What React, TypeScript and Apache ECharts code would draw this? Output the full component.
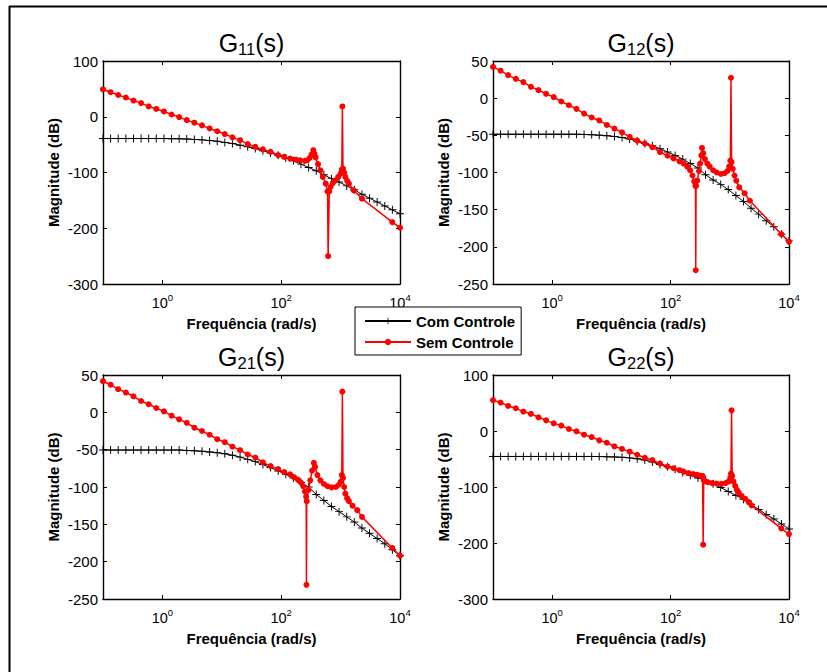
import React, { useEffect, useRef } from "react";
import * as echarts from "echarts";

// ---------- DATA (log10 of frequency in rad/s, magnitude in dB) ----------
const COM_LOGW = [
  -1.0, -0.872, -0.744, -0.615, -0.487, -0.359, -0.231, -0.103, 0.026, 0.154,
  0.282, 0.41, 0.538, 0.667, 0.795, 0.923, 1.051, 1.179, 1.308, 1.436,
  1.564, 1.692, 1.821, 1.949, 2.077, 2.205, 2.333, 2.462, 2.59, 2.718,
  2.846, 2.974, 3.103, 3.231, 3.359, 3.487, 3.615, 3.744, 3.872, 4.0,
];
const COM_G11 = [
  -39, -39, -39, -39, -39, -39, -39, -39, -39.2, -39.3,
  -39.6, -40, -40.6, -41.5, -42.6, -44, -46, -48, -51, -54,
  -57, -61, -65, -69, -74, -79, -85, -91, -97, -104,
  -111, -117, -124, -131, -139, -146, -153, -160, -167, -174,
];
const COM_G12 = [
  -48.5, -48.5, -48.5, -48.5, -48.5, -48.5, -48.5, -48.5, -48.5, -48.5,
  -48.5, -48.5, -48.8, -49.2, -49.8, -50.5, -51.5, -53, -55, -58,
  -61, -64, -68, -72.5, -77, -82, -88, -94, -103, -110,
  -116, -123, -131, -139, -148, -156, -165, -173, -183, -192,
];
const COM_G21 = [
  -50.5, -50.5, -50.5, -50.5, -50.5, -50.5, -50.5, -50.5, -50.5, -50.5,
  -50.5, -51, -51.5, -52.2, -53, -54, -55.5, -57.5, -60, -63,
  -66, -70, -74, -78.5, -83, -88, -94, -100, -110, -118,
  -126, -133, -140, -147, -155, -162, -169, -176, -184, -192,
];
const COM_G22 = [
  -45.4, -45.4, -45.4, -45.4, -45.4, -45.4, -45.4, -45.4, -45.4, -45.4,
  -45.4, -45.4, -45.4, -45.4, -45.6, -45.9, -46.3, -47, -48, -49.5,
  -52, -55.5, -60, -64, -68.5, -74, -79, -84, -88, -94,
  -101, -108, -115, -122, -131, -140, -149, -157, -166, -175,
];

const SEM_LOGW_G11 = [
  -1.0, -0.872, -0.744, -0.615, -0.487, -0.359, -0.231, -0.103, 0.026, 0.154,
  0.282, 0.41, 0.538, 0.667, 0.795, 0.923, 1.051, 1.179, 1.308, 1.436,
  1.564, 1.692, 1.821, 1.949, 2.05, 2.15, 2.25, 2.32, 2.4, 2.44,
  2.48, 2.51, 2.54, 2.56, 2.58, 2.62, 2.66, 2.7, 2.75, 2.78,
  2.79, 2.81, 2.83, 2.87, 2.91, 2.96, 3.0, 3.02, 3.03, 3.04,
  3.06, 3.08, 3.11, 3.14, 3.22, 3.36, 3.87, 4.0,
];
const SEM_G11 = [
  49, 44, 39, 34.5, 29, 24.5, 18.5, 14, 9.5, 4,
  -0.6, -6, -10.7, -15.5, -21, -26, -31, -37, -42, -49,
  -54, -58.5, -63, -69, -72, -75, -77, -78, -79, -78,
  -74, -68, -60, -66, -73, -85, -96, -108, -120, -134,
  -250, -134, -126, -119, -114, -108, -102, -95, 18.5, -93,
  -100, -108, -115, -120, -132, -147, -189, -199,
];
const SEM_LOGW_G12 = [
  -1.0, -0.872, -0.744, -0.615, -0.487, -0.359, -0.231, -0.103, 0.026, 0.154,
  0.282, 0.41, 0.538, 0.667, 0.795, 0.923, 1.051, 1.179, 1.308, 1.436,
  1.564, 1.692, 1.821, 1.949, 2.05, 2.15, 2.22, 2.28, 2.33, 2.37,
  2.4, 2.42, 2.425, 2.43, 2.45, 2.48, 2.5, 2.52, 2.53, 2.55,
  2.58, 2.62, 2.66, 2.72, 2.78, 2.85, 2.91, 2.96, 2.99, 3.01,
  3.02, 3.03, 3.05, 3.08, 3.11, 3.16, 3.25, 3.34, 3.87, 4.0,
];
const SEM_G12 = [
  42, 37, 31, 26, 21.6, 15.3, 10.8, 5.9, 1.4, -4.5,
  -9.5, -14.4, -20.7, -26, -30, -36, -41, -46, -52, -57,
  -61, -66, -72.5, -77.5, -81, -85, -88, -92, -97, -104,
  -112, -118, -231.5, -118, -111, -98, -88, -77, -67, -74,
  -82, -88, -92, -97, -100, -102, -101, -98, -92, -84,
  27.5, -86, -95, -104, -111, -120, -128, -138, -183, -193,
];
const SEM_LOGW_G21 = [
  -1.0, -0.872, -0.744, -0.615, -0.487, -0.359, -0.231, -0.103, 0.026, 0.154,
  0.282, 0.41, 0.538, 0.667, 0.795, 0.923, 1.051, 1.179, 1.308, 1.436,
  1.564, 1.692, 1.821, 1.949, 2.05, 2.15, 2.22, 2.28, 2.33, 2.37,
  2.4, 2.42, 2.425, 2.43, 2.46, 2.49, 2.52, 2.55, 2.57, 2.61,
  2.66, 2.72, 2.78, 2.85, 2.92, 2.97, 3.0, 3.02, 3.03, 3.04,
  3.06, 3.08, 3.11, 3.14, 3.2, 3.28, 3.36, 3.87, 4.0,
];
const SEM_G21 = [
  41.7, 37, 31, 26.5, 21.5, 15.2, 10.8, 5.8, 1.3, -4.5,
  -9.4, -14, -20.6, -25, -30, -36, -40, -46, -50.7, -56.5,
  -60.5, -67, -72, -76, -80, -83, -87, -90, -94, -99,
  -106, -113, -231, -119, -104, -91, -78, -67.7, -73, -84,
  -91, -96, -99, -100.5, -100, -97, -93, -84, 27.8, -88,
  -100, -109, -115, -119, -125, -131, -140, -181.6, -192,
];
const SEM_LOGW_G22 = [
  -1.0, -0.872, -0.744, -0.615, -0.487, -0.359, -0.231, -0.103, 0.026, 0.154,
  0.282, 0.41, 0.538, 0.667, 0.795, 0.923, 1.051, 1.179, 1.308, 1.436,
  1.564, 1.692, 1.821, 1.949, 2.05, 2.15, 2.22, 2.3, 2.38, 2.44,
  2.49, 2.52, 2.54, 2.55, 2.56, 2.58, 2.63, 2.7, 2.78, 2.86,
  2.93, 2.98, 3.01, 3.02, 3.03, 3.04, 3.06, 3.09, 3.12, 3.15,
  3.2, 3.26, 3.32, 3.37, 3.87, 4.0,
];
const SEM_G22 = [
  55, 50.8, 44.8, 40.6, 34.7, 30.5, 24.5, 19, 13.7, 9.6,
  3.6, -0.6, -6.6, -10.8, -16.7, -21, -27.5, -32, -37, -42.4,
  -47.8, -52, -58, -63.4, -66.5, -70, -72.5, -75, -77, -78,
  -79.5, -80, -80, -203, -88, -89, -91.5, -93, -94, -94.4,
  -93, -90, -83, -76, 37, -80, -90, -98, -105, -110,
  -116, -121, -127, -133, -174, -184,
];

const TITLES = ["11", "12", "21", "22"];
const Y_MIN = [-300, -250, -250, -300];
const Y_MAX = [100, 50, 50, 100];
const Y_STEP = [100, 50, 50, 100];
const X_TICKS = [1, 100, 10000];
const LEGEND_NAMES = ["Com Controle", "Sem Controle"];
const X_LABEL = "Frequência (rad/s)";
const Y_LABEL = "Magnitude (dB)";

// ---------- LAYOUT ----------
const GRIDS = [
  { left: 103, top: 61, width: 297, height: 223 },
  { left: 493, top: 61, width: 296, height: 223 },
  { left: 103, top: 375, width: 297, height: 224 },
  { left: 493, top: 375, width: 296, height: 224 },
];
const FONT = "'Liberation Sans', Arial, sans-serif";
const PLUS =
  "path://M4.4,0L5.6,0L5.6,4.4L10,4.4L10,5.6L5.6,5.6L5.6,10L4.4,10L4.4,5.6L0,5.6L0,4.4L4.4,4.4Z";

const toPts = (lw: number[], db: number[]) =>
  lw.map((e, i) => [Math.pow(10, e), db[i]]);

export default function App() {
  const ref = useRef<HTMLDivElement>(null);

  useEffect(() => {
    if (!ref.current) return;
    const chart = echarts.init(ref.current, undefined, { renderer: "svg" });

    const com = [COM_G11, COM_G12, COM_G21, COM_G22];
    const semW = [SEM_LOGW_G11, SEM_LOGW_G12, SEM_LOGW_G21, SEM_LOGW_G22];
    const semV = [SEM_G11, SEM_G12, SEM_G21, SEM_G22];

    const axisLineStyle = { color: "#000", width: 1.4 };
    const xAxis: any[] = [];
    const yAxis: any[] = [];
    const series: any[] = [];
    const graphic: any[] = [
      { type: "line", shape: { x1: 9, y1: 6.5, x2: 827, y2: 6.5 }, style: { stroke: "#000", lineWidth: 2 } },
      { type: "line", shape: { x1: 9.5, y1: 6, x2: 9.5, y2: 672 }, style: { stroke: "#000", lineWidth: 2 } },
    ];

    GRIDS.forEach((g, i) => {
      const common = {
        type: "log",
        logBase: 10,
        gridIndex: i,
        min: 0.1,
        max: 10000,
        axisLine: { show: true, onZero: false, lineStyle: axisLineStyle },
        axisTick: { show: true, inside: true, length: 4, customValues: X_TICKS, lineStyle: { color: "#000" } },
        splitLine: { show: false },
        minorTick: { show: false },
      };
      xAxis.push({
        ...common,
        position: "bottom",
        axisLabel: {
          customValues: X_TICKS,
          margin: 8,
          color: "#000",
          formatter: (v: number) => `{b|10}{s|${Math.round(Math.log10(v))}}`,
          rich: {
            b: { fontSize: 14.5, fontFamily: FONT, color: "#000", lineHeight: 22 },
            s: { fontSize: 9.5, fontFamily: FONT, color: "#000", lineHeight: 10, verticalAlign: "top" },
          },
        },
      });
      xAxis.push({ ...common, position: "top", axisLabel: { show: false } });
      const ycommon = {
        type: "value",
        gridIndex: i,
        min: Y_MIN[i],
        max: Y_MAX[i],
        interval: Y_STEP[i],
        axisLine: { show: true, onZero: false, lineStyle: axisLineStyle },
        axisTick: { show: true, inside: true, length: 4, lineStyle: { color: "#000" } },
        splitLine: { show: false },
      };
      yAxis.push({
        ...ycommon,
        position: "left",
        axisLabel: { fontSize: 15, fontFamily: FONT, color: "#000", margin: 5 },
      });
      yAxis.push({ ...ycommon, position: "right", axisLabel: { show: false } });

      series.push({
        name: LEGEND_NAMES[0],
        type: "line",
        xAxisIndex: 2 * i,
        yAxisIndex: 2 * i,
        data: toPts(COM_LOGW, com[i]),
        symbol: PLUS,
        symbolSize: 8,
        showAllSymbol: true,
        itemStyle: { color: "#000" },
        lineStyle: { color: "#000", width: 1 },
        z: 2,
        silent: true,
      });
      series.push({
        name: LEGEND_NAMES[1],
        type: "line",
        xAxisIndex: 2 * i,
        yAxisIndex: 2 * i,
        data: toPts(semW[i], semV[i]),
        symbol: "circle",
        symbolSize: 6,
        showAllSymbol: true,
        itemStyle: { color: "#ff0000" },
        lineStyle: { color: "#ff0000", width: 1.5 },
        z: 3,
        silent: true,
      });

      const cx = g.left + g.width / 2;
      graphic.push({
        type: "text",
        x: cx,
        y: g.top - 18,
        style: {
          text: `{g|G}{sub|${TITLES[i]}}{g|(s)}`,
          align: "center",
          verticalAlign: "middle",
          rich: {
            g: { fontSize: 25, fontFamily: FONT, fill: "#000", lineHeight: 28 },
            sub: { fontSize: 16.5, fontFamily: FONT, fill: "#000", lineHeight: 17, verticalAlign: "bottom" },
          },
        },
      });
      graphic.push({
        type: "text",
        x: g.left - 50,
        y: g.top + g.height / 2,
        rotation: Math.PI / 2,
        style: {
          text: Y_LABEL,
          align: "center",
          verticalAlign: "middle",
          font: `bold 15px ${FONT}`,
          fill: "#000",
        },
      });
      graphic.push({
        type: "text",
        x: cx,
        y: g.top + g.height + 39,
        style: {
          text: X_LABEL,
          align: "center",
          verticalAlign: "middle",
          font: `bold 15px ${FONT}`,
          fill: "#000",
        },
      });
    });

    chart.setOption({
      animation: false,
      backgroundColor: "#fff",
      grid: GRIDS.map((g) => ({ ...g, containLabel: false })),
      xAxis,
      yAxis,
      series,
      graphic,
      legend: {
        data: LEGEND_NAMES,
        orient: "vertical",
        left: 355,
        top: 307,
        padding: [6, 6, 5, 9],
        itemGap: 5,
        itemWidth: 46,
        itemHeight: 8,
        backgroundColor: "#fff",
        borderColor: "#000",
        borderWidth: 1,
        borderRadius: 0,
        selectedMode: false,
        textStyle: { fontSize: 15, fontWeight: "bold", fontFamily: FONT, color: "#000", lineHeight: 16 },
      },
    });

    return () => chart.dispose();
  }, []);

  return (
    <div
      ref={ref}
      style={{ position: "absolute", left: 0, top: 0, width: 827, height: 672 }}
    />
  );
}
